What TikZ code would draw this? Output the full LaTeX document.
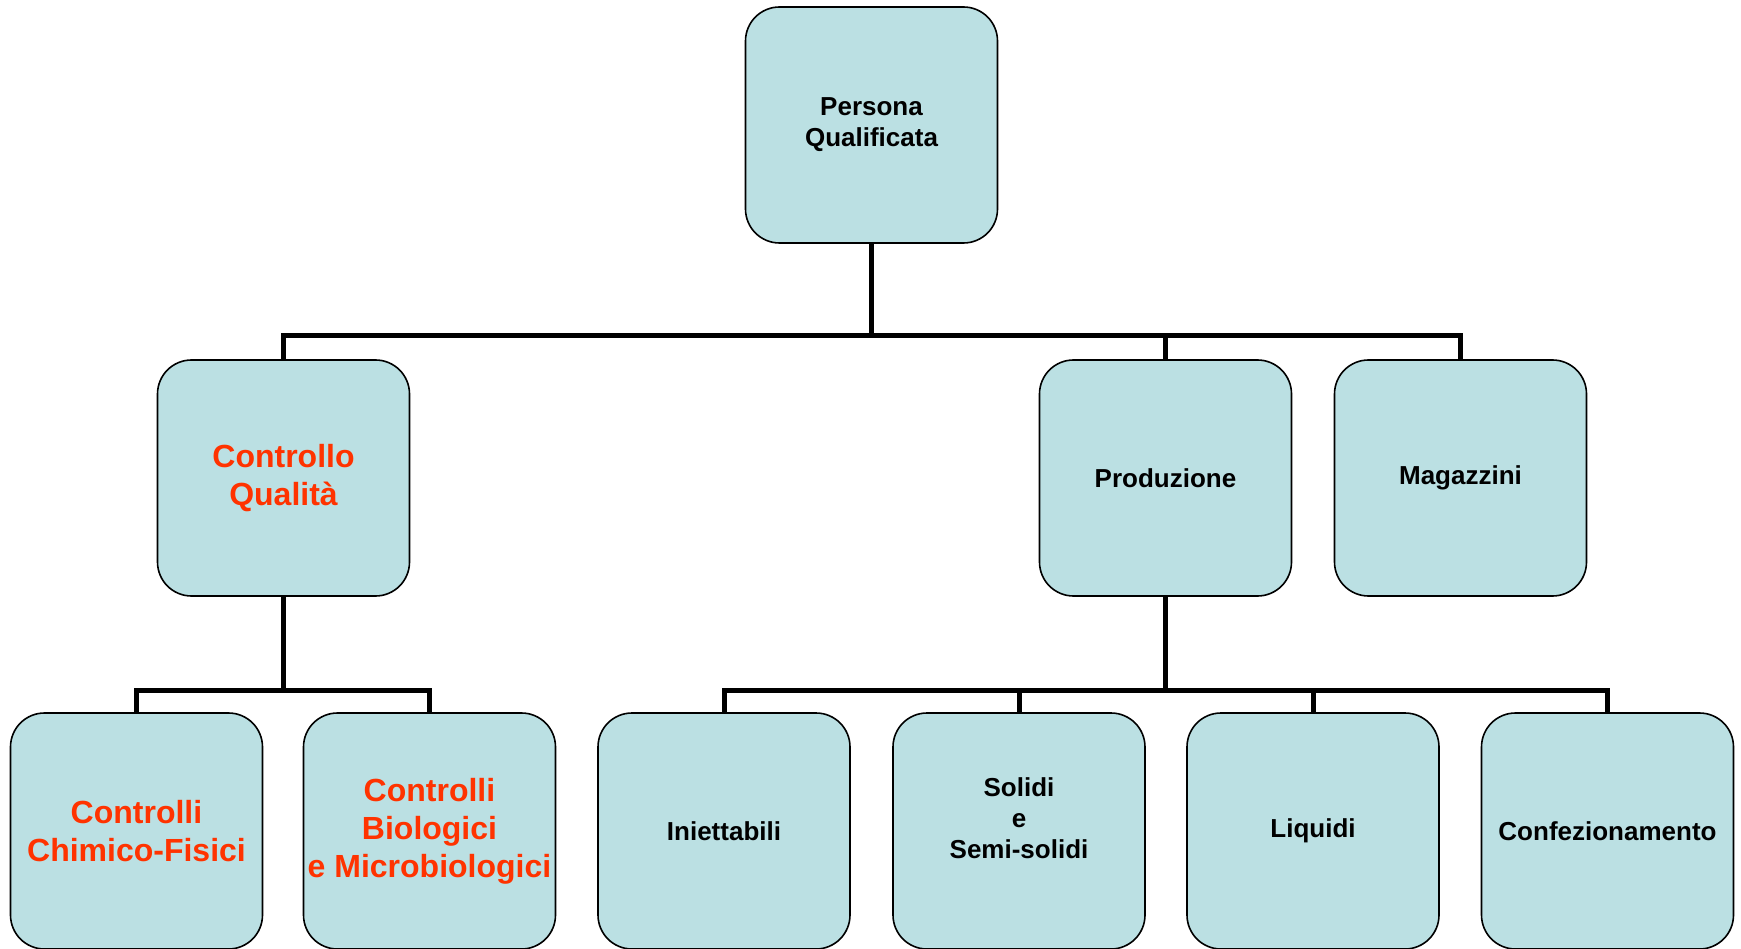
\documentclass[tikz,border=0pt]{standalone}
\usepackage{fontspec}
\setmainfont{Liberation Sans}
\definecolor{boxfill}{RGB}{187,224,227}
\definecolor{qred}{RGB}{255,51,0}
\begin{document}
\begin{tikzpicture}[x=1pt,y=-1pt,
  orgbox/.style={draw=black, line width=1.6pt, fill=boxfill, rounded corners=34pt,
    minimum width=252pt, minimum height=236pt, align=center, inner sep=0pt,
    font=\fontsize{26}{31}\selectfont\bfseries},
  redbox/.style={orgbox, text=qred, font=\fontsize{32}{38}\selectfont\bfseries},
  conn/.style={draw=black, line width=5pt, line join=miter}]
\useasboundingbox (0,0) rectangle (1741,949);
\clip (0,0) rectangle (1741,949);
% level 1
\node[orgbox] (pq) at (871.5,125) {Persona\\Qualificata};
% level 2
\node[redbox] (cq) at (283.5,478) {Controllo\\Qualità};
\node[orgbox] (pr) at (1165.5,478) {Produzione};
\node[orgbox] (mg) at (1460.5,478) {Magazzini};
% level 3
\node[redbox] (cf) at (136.5,831) {Controlli\\Chimico-Fisici};
\node[redbox] (cb) at (429.5,831) {Controlli\\Biologici\\e Microbiologici};
\node[orgbox] (in) at (724,831) {Iniettabili};
\node[orgbox] (so) at (1019,831) {Solidi\\e\\Semi-solidi\\[-5pt]\mbox{}};
\node[orgbox] (li) at (1313,831) {Liquidi};
\node[orgbox] (co) at (1607.5,831) {Confezionamento};
% connectors
\draw[conn] (pq.south) -- ++(0,91.5) -| (cq.north);
\draw[conn] (pq.south) -- ++(0,91.5) -| (pr.north);
\draw[conn] (pq.south) -- ++(0,91.5) -| (mg.north);
\draw[conn] (cq.south) -- ++(0,93.5) -| (cf.north);
\draw[conn] (cq.south) -- ++(0,93.5) -| (cb.north);
\draw[conn] (pr.south) -- ++(0,93.5) -| (in.north);
\draw[conn] (pr.south) -- ++(0,93.5) -| (so.north);
\draw[conn] (pr.south) -- ++(0,93.5) -| (li.north);
\draw[conn] (pr.south) -- ++(0,93.5) -| (co.north);
\end{tikzpicture}
\end{document}
